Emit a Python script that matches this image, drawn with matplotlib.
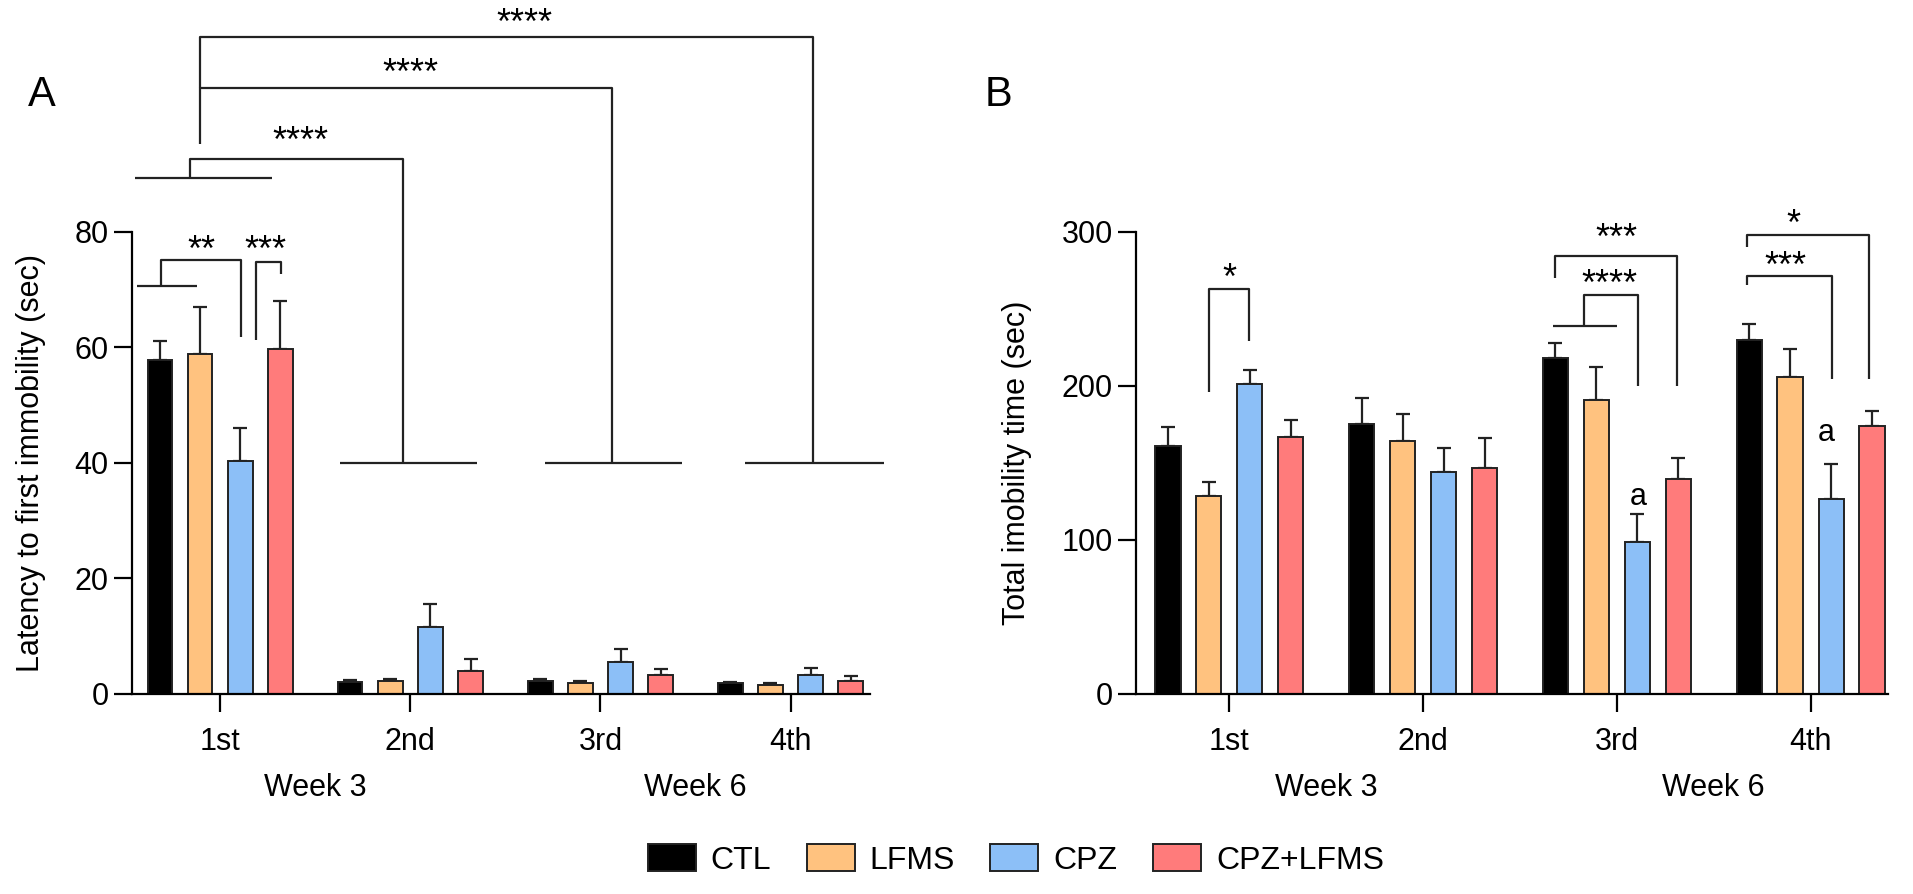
import numpy as np
import matplotlib
matplotlib.use("Agg")
import matplotlib.pyplot as plt
from matplotlib.patches import Patch

plt.rcParams['font.family'] = ['Liberation Sans', 'DejaVu Sans']

groups = ['CTL', 'LFMS', 'CPZ', 'CPZ+LFMS']
colors = ['#000000', '#FFC27F', '#8CBFF7', '#FF7B7B']
sessions = ['1st', '2nd', '3rd', '4th']

# panel A: latency to first immobility (sec), mean and upper error
lat_mean = {
    'CTL':      [57.7, 2.0, 2.2, 1.8],
    'LFMS':     [58.8, 2.2, 1.8, 1.6],
    'CPZ':      [40.2, 11.6, 5.5, 3.3],
    'CPZ+LFMS': [59.6, 4.0, 3.2, 2.2],
}
lat_err = {
    'CTL':      [3.3, 0.4, 0.3, 0.2],
    'LFMS':     [8.2, 0.3, 0.4, 0.2],
    'CPZ':      [5.8, 3.9, 2.2, 1.2],
    'CPZ+LFMS': [8.4, 2.0, 1.1, 0.8],
}

# panel B: total immobility time (sec)
imm_mean = {
    'CTL':      [160.8, 175.2, 217.7, 229.4],
    'LFMS':     [128.6, 164.3, 190.6, 205.3],
    'CPZ':      [200.9, 143.9, 98.6, 126.4],
    'CPZ+LFMS': [166.5, 146.8, 139.5, 173.5],
}
imm_err = {
    'CTL':      [12.2, 16.9, 9.9, 10.6],
    'LFMS':     [9.1, 17.5, 21.2, 18.6],
    'CPZ':      [9.4, 15.4, 17.9, 23.0],
    'CPZ+LFMS': [11.4, 19.5, 13.8, 9.9],
}

offsets = [-0.317, -0.106, 0.106, 0.317]
bw = 0.13
x = np.arange(len(sessions))

fig = plt.figure(figsize=(19.13, 8.94), dpi=100)
axA = fig.add_axes([0.069, 0.224, 0.386, 0.517])
axB = fig.add_axes([0.594, 0.224, 0.393, 0.517])

LW = 1.6
FS = 22


def draw_bars(ax, means, errs):
    for g, c, off in zip(groups, colors, offsets):
        ax.bar(x + off, means[g], bw, color=c, edgecolor='#222222', linewidth=1.4, zorder=2)
        ax.errorbar(x + off, means[g], yerr=[np.zeros(4), errs[g]], fmt='none',
                    ecolor='#222222', elinewidth=1.6, capsize=5, capthick=1.6, zorder=1)
    for side in ['top', 'right']:
        ax.spines[side].set_visible(False)
    for side in ['left', 'bottom']:
        ax.spines[side].set_linewidth(1.6)
    ax.set_xticks(x)
    ax.set_xticklabels(sessions, fontsize=FS)
    ax.tick_params(axis='x', length=13, width=1.6, pad=11)
    ax.tick_params(axis='y', labelsize=FS, length=13, width=1.6, pad=4)
    ax.text(0.5, -0.203, 'Week 3', transform=ax.get_xaxis_transform(), ha='center', va='center', fontsize=FS)
    ax.text(2.5, -0.203, 'Week 6', transform=ax.get_xaxis_transform(), ha='center', va='center', fontsize=FS)


def line(ax, xs, ys):
    ax.plot(xs, ys, color='#222222', lw=LW, clip_on=False, solid_capstyle='butt', zorder=3)


def stars(ax, xx, yy, s):
    ax.text(xx, yy, s, ha='center', va='center', fontsize=26, clip_on=False)


draw_bars(axA, lat_mean, lat_err)
axA.set_xlim(-0.464, 3.42)
axA.set_ylim(0, 80)
axA.set_yticks([0, 20, 40, 60, 80])
axA.set_ylabel('Latency to first immobility (sec)', fontsize=FS, labelpad=20)

# within week 3, session 1
line(axA, [-0.44, -0.12], [70.6, 70.6])
line(axA, [-0.31, -0.31, 0.11, 0.11], [70.6, 75, 75, 61.7])
stars(axA, -0.1, 76.6, '**')
line(axA, [0.19, 0.19, 0.32, 0.32], [61.2, 74.7, 74.7, 72.6])
stars(axA, 0.24, 76.6, '***')
# 1st session vs others
line(axA, [-0.45, 0.27], [89.3, 89.3])
line(axA, [-0.157, -0.157, 0.96, 0.96], [89.3, 92.6, 92.6, 40])
line(axA, [0.63, 1.35], [40, 40])
stars(axA, 0.42, 95.5, '****')
line(axA, [-0.108, -0.108, 2.06, 2.06], [95.1, 104.9, 104.9, 40])
line(axA, [1.71, 2.43], [40, 40])
stars(axA, 1.0, 107.2, '****')
line(axA, [-0.108, -0.108, 3.12, 3.12], [104.9, 113.7, 113.7, 40])
line(axA, [2.76, 3.49], [40, 40])
stars(axA, 1.6, 115.9, '****')

draw_bars(axB, imm_mean, imm_err)
axB.set_xlim(-0.48, 3.40)
axB.set_ylim(0, 300)
axB.set_yticks([0, 100, 200, 300])
axB.set_ylabel('Total imobility time (sec)', fontsize=FS, labelpad=21)

line(axB, [-0.107, -0.107, 0.104, 0.104], [196, 263, 263, 229])
stars(axB, 0.0, 269, '*')
line(axB, [2 - 0.33, 2.0], [238.5, 238.5])
line(axB, [2 - 0.17, 2 - 0.17, 2.11, 2.11], [238.5, 259, 259, 200])
stars(axB, 2 - 0.04, 265, '****')
line(axB, [2 - 0.32, 2 - 0.32, 2.31, 2.31], [270, 284, 284, 200])
stars(axB, 2.0, 295, '***')
line(axB, [3 - 0.33, 3 - 0.33, 3.11, 3.11], [265, 271, 271, 204])
stars(axB, 3 - 0.13, 277, '***')
line(axB, [3 - 0.33, 3 - 0.33, 3.30, 3.30], [290, 298, 298, 204])
stars(axB, 3 - 0.09, 304, '*')
axB.text(2.11, 128, 'a', ha='center', va='center', fontsize=FS)
axB.text(3.08, 169, 'a', ha='center', va='center', fontsize=FS)

fig.text(0.022, 0.894, 'A', fontsize=30, ha='center', va='center')
fig.text(0.522, 0.894, 'B', fontsize=30, ha='center', va='center')

handles = [Patch(facecolor=c, edgecolor='#222222', linewidth=1.4, label=g) for g, c in zip(groups, colors)]
fig.legend(handles=handles, loc='center', bbox_to_anchor=(0.531, 0.038), ncol=4, frameon=False,
           fontsize=23, handlelength=1.5, handleheight=0.9, handletextpad=0.48, columnspacing=1.1)

fig.savefig('out.png', dpi=100)
